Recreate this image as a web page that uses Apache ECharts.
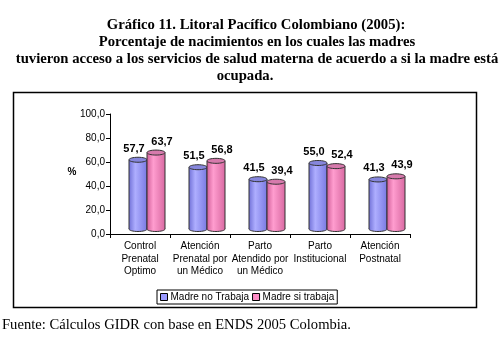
<!DOCTYPE html>
<html>
<head>
<meta charset="utf-8">
<script src="https://cdn.jsdelivr.net/npm/echarts@6/dist/echarts.min.js"></script>
<style>
  html, body { margin: 0; padding: 0; background: #fff; }
  #main { width: 503px; height: 344px; }
</style>
</head>
<body>
<div id="main"></div>
<script>
// datos del grafico
var categorias = ['Control\nPrenatal\nOptimo', 'Atención\nPrenatal por\nun Médico', 'Parto\nAtendido por\nun Médico', 'Parto\nInstitucional', 'Atención\nPostnatal'];
var noTrabaja = [57.7, 51.5, 41.5, 55.0, 41.3];
var siTrabaja = [63.7, 56.8, 39.4, 52.4, 43.9];
var ticksY = [0, 20, 40, 60, 80, 100];

var myChart = echarts.init(document.getElementById('main'));

var fTitulo = 'bold 14.7px "Liberation Serif", serif';

// cilindro 3D (profundidad: +7 en x, -5 en y)
function cilindro(lado, cuerpo, tapa, dxTxt) {
    return function (params, api) {
        var idx = api.value(0), val = api.value(1);
        var base = api.coord([idx, 0]);
        var tope = api.coord([idx, val]);
        var w = 18, ry = 2.5;
        var cx = base[0] + lado * 9 + 7;
        var yb = base[1] - 5, yt = tope[1] - 5;
        return {
            type: 'group',
            children: [
                { type: 'ellipse', shape: { cx: cx, cy: yb, rx: w / 2, ry: ry },
                  style: { fill: cuerpo, stroke: '#333', lineWidth: 1 } },
                { type: 'rect', shape: { x: cx - w / 2, y: yt, width: w, height: yb - yt },
                  style: { fill: cuerpo } },
                { type: 'line', shape: { x1: cx - w / 2, y1: yt, x2: cx - w / 2, y2: yb },
                  style: { stroke: '#333', lineWidth: 1 } },
                { type: 'line', shape: { x1: cx + w / 2, y1: yt, x2: cx + w / 2, y2: yb },
                  style: { stroke: '#333', lineWidth: 1 } },
                { type: 'ellipse', shape: { cx: cx, cy: yt, rx: w / 2, ry: ry },
                  style: { fill: tapa, stroke: '#333', lineWidth: 1 } },
                { type: 'text', style: { x: cx + dxTxt, y: yt - 11, text: val.toFixed(1).replace('.', ','),
                  align: 'center', verticalAlign: 'middle', fill: '#000',
                  font: 'bold 11px "Liberation Sans", Arial, sans-serif' } }
            ]
        };
    };
}

function grad(a, b, c) {
    return new echarts.graphic.LinearGradient(0, 0, 1, 0, [
        { offset: 0, color: a }, { offset: 0.35, color: b }, { offset: 1, color: c }
    ]);
}

var option = {
    animation: false,
    textStyle: { fontFamily: '"Liberation Sans", Arial, sans-serif' },
    graphic: [
        { type: 'text', style: { x: 256, y: 25, text: 'Gráfico 11. Litoral Pacífico Colombiano (2005):', align: 'center', verticalAlign: 'middle', font: fTitulo, fill: '#000' } },
        { type: 'text', style: { x: 257, y: 42, text: 'Porcentaje de nacimientos en los cuales las madres', align: 'center', verticalAlign: 'middle', font: fTitulo, fill: '#000' } },
        { type: 'text', style: { x: 257, y: 59, text: 'tuvieron acceso a los servicios de salud materna de acuerdo a si la madre está', align: 'center', verticalAlign: 'middle', font: fTitulo, fill: '#000' } },
        { type: 'text', style: { x: 245, y: 76, text: 'ocupada.', align: 'center', verticalAlign: 'middle', font: fTitulo, fill: '#000' } },
        { type: 'rect', shape: { x: 13.5, y: 92.5, width: 463, height: 215 }, style: { fill: 'none', stroke: '#000', lineWidth: 1.5 } },
        { type: 'text', style: { x: 72, y: 172, text: '%', align: 'center', verticalAlign: 'middle', font: 'bold 10px "Liberation Sans", Arial, sans-serif', fill: '#000' } },
        { type: 'text', style: { x: 2, y: 325, text: 'Fuente: Cálculos GIDR con base en ENDS 2005 Colombia.', align: 'left', verticalAlign: 'middle', font: '14.6px "Liberation Serif", serif', fill: '#000' } }
    ],
    legend: {
        left: 157, top: 290,
        padding: [2, 3],
        itemGap: 3,
        itemWidth: 7, itemHeight: 7,
        borderColor: '#000', borderWidth: 1,
        icon: 'rect',
        textStyle: { fontSize: 10, color: '#000', padding: [0, 0, 0, -2] },
        data: [
            { name: 'Madre no Trabaja', itemStyle: { color: '#9999ff', borderColor: '#000', borderWidth: 1 } },
            { name: 'Madre si trabaja', itemStyle: { color: '#ff8cc6', borderColor: '#000', borderWidth: 1 } }
        ]
    },
    grid: { left: 110, right: 93, top: 114, bottom: 110 },
    xAxis: {
        type: 'category',
        data: categorias,
        boundaryGap: true,
        axisLine: { lineStyle: { color: '#000', width: 1 } },
        axisTick: { show: true, length: 4, lineStyle: { color: '#000' } },
        axisLabel: { color: '#000', fontSize: 10, lineHeight: 12.5, margin: 6, interval: 0 }
    },
    yAxis: {
        type: 'value',
        min: ticksY[0], max: ticksY[ticksY.length - 1], interval: 20,
        axisLine: { show: true, lineStyle: { color: '#000', width: 1 } },
        axisTick: { show: true, length: 4, lineStyle: { color: '#000' } },
        splitLine: { show: false },
        axisLabel: { color: '#000', fontSize: 10, margin: 5,
            formatter: function (v) { return v.toFixed(1).replace('.', ','); } }
    },
    series: [
        {
            name: 'Madre no Trabaja',
            type: 'custom',
            itemStyle: { color: '#9999ff' },
            renderItem: cilindro(-1, grad('#7272d8', '#aeaeff', '#7a7ae2'), '#8686dc', -4),
            encode: { x: 0, y: 1 },
            data: noTrabaja.map(function (v, i) { return [i, v]; })
        },
        {
            name: 'Madre si trabaja',
            type: 'custom',
            itemStyle: { color: '#ff8cc6' },
            renderItem: cilindro(1, grad('#d2609a', '#ff9dcf', '#d96aa2'), '#d67aac', 6),
            encode: { x: 0, y: 1 },
            data: siTrabaja.map(function (v, i) { return [i, v]; })
        }
    ]
};

myChart.setOption(option);
</script>
</body>
</html>
